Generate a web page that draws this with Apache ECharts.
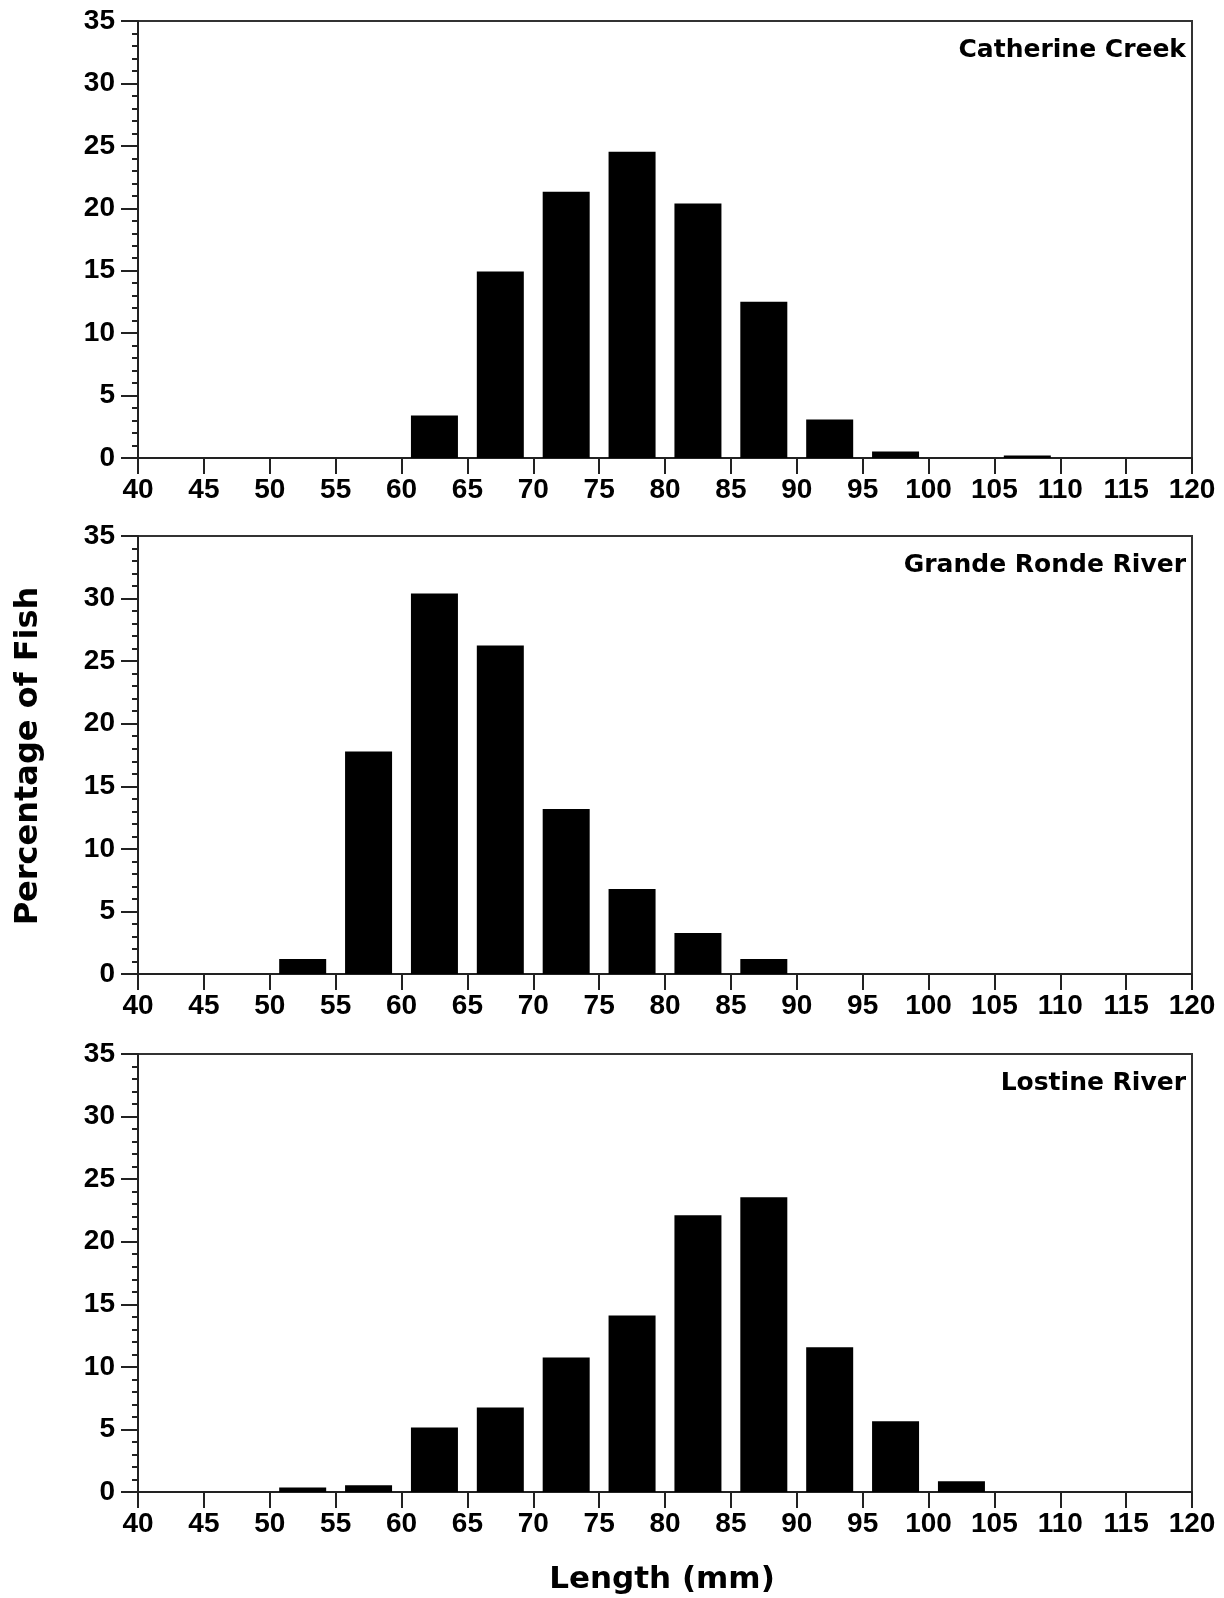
<!DOCTYPE html>
<html>
<head>
<meta charset="utf-8">
<script src="https://cdn.jsdelivr.net/npm/echarts@6/dist/echarts.min.js"></script>
<style>
html,body{margin:0;padding:0;background:#fff;}
#chart{width:1224px;height:1598px;}
</style>
</head>
<body>
<div id="chart"></div>
<script>
// Length bins (lower edge, mm); each bin is 5 mm wide
var binStarts = [40, 45, 50, 55, 60, 65, 70, 75, 80, 85, 90, 95, 100, 105, 110, 115];
var binWidth = 5;
var xTicks = [40, 45, 50, 55, 60, 65, 70, 75, 80, 85, 90, 95, 100, 105, 110, 115, 120];
var yTicks = [0, 5, 10, 15, 20, 25, 30, 35];

var panelNames = ["Catherine Creek", "Grande Ronde River", "Lostine River"];

// Percentage of fish per bin
var catherineCreek   = [0, 0, 0,    0,    3.41, 14.94, 21.32, 24.52, 20.39, 12.51, 3.09,  0.53, 0,    0.21, 0, 0];
var grandeRondeRiver = [0, 0, 1.20, 17.78, 30.40, 26.25, 13.18, 6.79, 3.27,  1.20,  0,     0,    0,    0,    0, 0];
var lostineRiver     = [0, 0, 0.35, 0.54, 5.15, 6.75, 10.74, 14.10, 22.12, 23.56, 11.57, 5.65, 0.85, 0,    0, 0];

var yAxisName = "Percentage of Fish";
var xAxisName = "Length (mm)";

var seriesValues = [catherineCreek, grandeRondeRiver, lostineRiver];

var chart = echarts.init(document.getElementById('chart'), null, {renderer: 'canvas'});

var gridTops = [21, 536, 1054];
var gridHeights = [437, 438, 438];
var axisColor = '#222';
var digitFont = '"Liberation Sans", Arial, sans-serif';
var wordFont = '"DejaVu Sans", sans-serif';

var grids = [], xAxes = [], yAxes = [], series = [], titles = [];
for (var i = 0; i < 3; i++) {
  grids.push({
    left: 138, right: 32, top: gridTops[i], height: gridHeights[i],
    show: true, borderColor: '#333', borderWidth: 2, backgroundColor: 'transparent'
  });
  xAxes.push({
    type: 'value', gridIndex: i,
    min: xTicks[0], max: xTicks[xTicks.length - 1], interval: 5,
    axisLine: {show: true, onZero: false, lineStyle: {color: axisColor, width: 2}},
    axisTick: {show: true, length: 16, inside: false, lineStyle: {color: axisColor, width: 2}},
    axisLabel: {show: true, margin: 18, color: '#000', fontSize: 28, fontWeight: 'bold', fontFamily: digitFont,
                showMinLabel: true, showMaxLabel: true},
    splitLine: {show: false}
  });
  yAxes.push({
    type: 'value', gridIndex: i,
    min: yTicks[0], max: yTicks[yTicks.length - 1], interval: 5,
    axisLine: {show: true, lineStyle: {color: axisColor, width: 2}},
    axisTick: {show: true, length: 17, inside: false, lineStyle: {color: axisColor, width: 2}},
    minorTick: {show: true, splitNumber: 5, length: 6, lineStyle: {color: axisColor, width: 2}},
    axisLabel: {show: true, margin: 23, color: '#000', fontSize: 28, fontWeight: 'bold', fontFamily: digitFont},
    splitLine: {show: false}
  });
  var data = [];
  for (var k = 0; k < binStarts.length; k++) {
    data.push([binStarts[k] + binWidth / 2, seriesValues[i][k]]);
  }
  series.push({
    type: 'bar', xAxisIndex: i, yAxisIndex: i,
    data: data, barWidth: 47,
    itemStyle: {color: '#000'},
    silent: true, animation: false
  });
  titles.push({
    text: panelNames[i], right: 38, top: gridTops[i] + 17, padding: 0,
    textStyle: {fontSize: 25, fontWeight: 'bold', fontFamily: wordFont, color: '#000'}
  });
}

chart.setOption({
  animation: false,
  backgroundColor: '#fff',
  title: titles,
  grid: grids,
  xAxis: xAxes,
  yAxis: yAxes,
  series: series,
  graphic: [
    {type: 'text', x: 29, y: 756, rotation: Math.PI / 2,
     style: {text: yAxisName, fontSize: 32, fontWeight: 'bold', fontFamily: wordFont, fill: '#000',
             align: 'center', verticalAlign: 'middle'}},
    {type: 'text', x: 662, y: 1580,
     style: {text: xAxisName, fontSize: 31, fontWeight: 'bold', fontFamily: wordFont, fill: '#000',
             align: 'center', verticalAlign: 'middle'}}
  ]
});
</script>
</body>
</html>
